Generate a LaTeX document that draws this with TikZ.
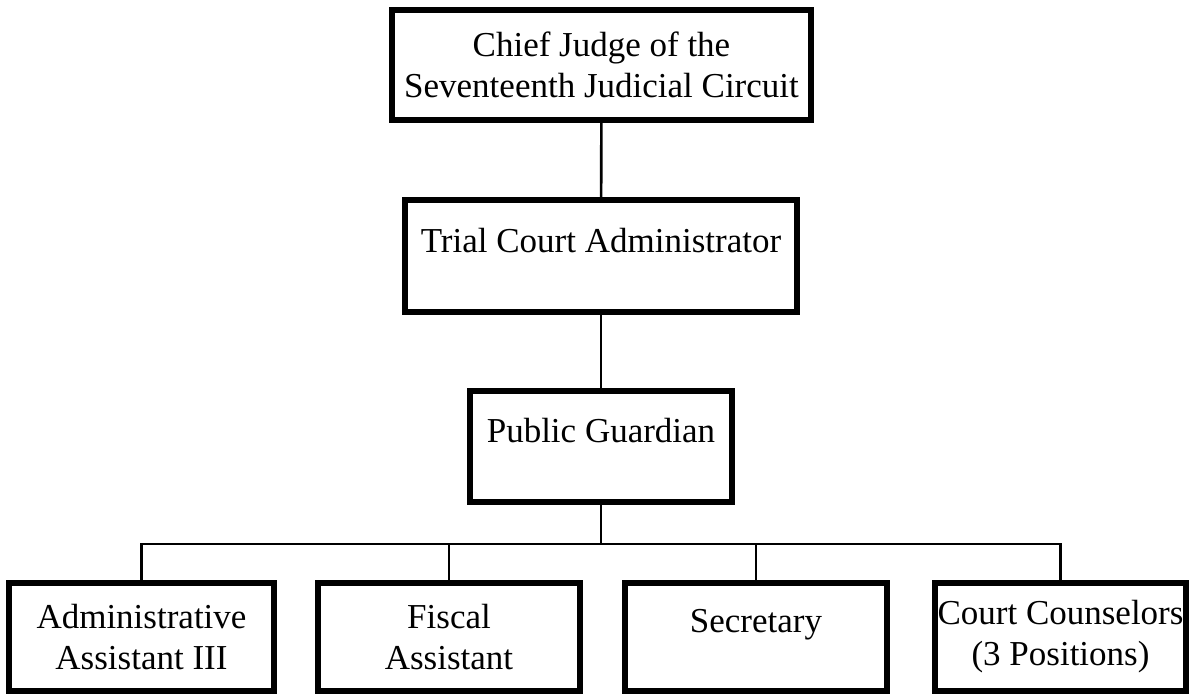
\documentclass[tikz,border=0pt]{standalone}
\usepackage{fontspec}
\setmainfont{Liberation Serif}
\usetikzlibrary{positioning}

\begin{document}
\begin{tikzpicture}[x=1pt,y=-1pt,
    orgbox/.style={draw,line width=6pt,fill=white,align=center,inner sep=0pt,
                   font=\fontsize{35}{41}\selectfont},
    lowbox/.style={orgbox,minimum height=108pt},
    oneline/.style={text depth=32pt},
    link/.style={line width=2.6pt}]
    \useasboundingbox (0,0) rectangle (1190,694);

    \node[orgbox, minimum width=419pt, minimum height=110pt] (chief) at (601.5,65)
        {Chief Judge of the\\Seventeenth Judicial Circuit};
    \node[orgbox, oneline, minimum width=392pt, minimum height=112pt] (tca) at (601,256)
        {Trial Court Administrator};
    \node[orgbox, oneline, minimum width=262pt, minimum height=111pt] (pg) at (601,446.5)
        {Public Guardian};

    \node[lowbox, minimum width=265pt] (adm) at (141.5,637) {Administrative\\Assistant III};
    \node[lowbox, minimum width=262pt] (fis) at (449,637) {Fiscal\\Assistant};
    \node[lowbox, oneline, minimum width=262pt] (sec) at (756,637) {Secretary};
    \node[lowbox, minimum width=251pt] (cc) at (1060.5,637) {Court Counselors\\(3 Positions)};

    \coordinate (bus) at (601,544);

    \draw[link] (chief) -- (tca);
    \draw[link] (tca) -- (pg);
    \draw[link] (pg) -- (bus);
    \draw[link] (adm.north) |- (bus) -| (cc.north);
    \draw[link] (fis.north) -- (fis.north |- bus);
    \draw[link] (sec.north) -- (sec.north |- bus);
\end{tikzpicture}
\end{document}
